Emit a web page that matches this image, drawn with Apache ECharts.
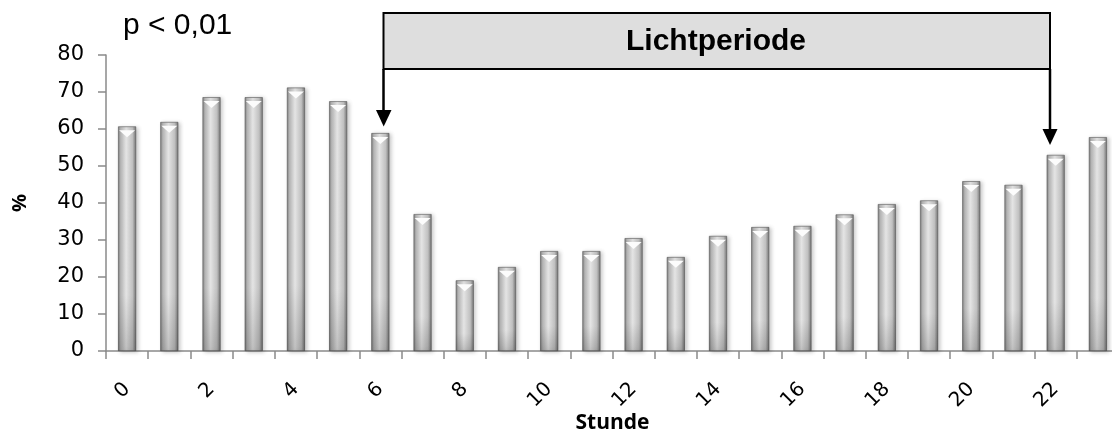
<!DOCTYPE html>
<html>
<head>
<meta charset="utf-8">
<script src="https://cdn.jsdelivr.net/npm/echarts@6/dist/echarts.min.js"></script>
<style>
  html, body { margin: 0; padding: 0; background: #ffffff; }
  #chart { width: 1112px; height: 440px; }
</style>
</head>
<body>
<div id="chart"></div>
<script>
// Hour of day (Stunde)
const hours = ['0','1','2','3','4','5','6','7','8','9','10','11','12','13','14','15','16','17','18','19','20','21','22','23'];
// Percentage per hour
const percent = [60.7, 61.9, 68.6, 68.6, 71.2, 67.5, 58.9, 37.0, 19.1, 22.7, 27.0, 27.0, 30.5, 25.4, 31.1, 33.5, 33.8, 36.9, 39.7, 40.7, 45.9, 44.9, 53.0, 57.8];
// Y-axis range
const yMin = 0, yMax = 80, yStep = 10;
// Annotation texts
const pText = 'p < 0,01';
const periodText = 'Lichtperiode';
const xName = 'Stunde';
const yName = '%';

const chart = echarts.init(document.getElementById('chart'), null, { renderer: 'canvas' });

const barFill = new echarts.graphic.LinearGradient(0, 0, 1, 0, [
  { offset: 0, color: '#7e7e7e' },
  { offset: 0.14, color: '#b8b8b8' },
  { offset: 0.45, color: '#e4e4e4' },
  { offset: 0.8, color: '#c0c0c0' },
  { offset: 1, color: '#747474' }
]);
const shadeFill = new echarts.graphic.LinearGradient(0, 0, 0, 1, [
  { offset: 0, color: 'rgba(0,0,0,0)' },
  { offset: 0.75, color: 'rgba(0,0,0,0)' },
  { offset: 1, color: 'rgba(0,0,0,0.16)' }
]);

const axisGray = '#8a8a8a';

chart.setOption({
  animation: false,
  backgroundColor: '#ffffff',
  grid: { left: 106, top: 55, width: 1013, height: 296, containLabel: false, outerBoundsMode: 'none' },
  xAxis: {
    type: 'category',
    data: hours,
    name: xName,
    nameLocation: 'middle',
    nameGap: 62,
    nameMoveOverlap: false,
    nameTextStyle: { fontFamily: 'Open Sans', fontWeight: 'bold', fontSize: 21, color: '#000' },
    boundaryGap: true,
    axisLine: { show: true, lineStyle: { color: axisGray, width: 1.5 } },
    axisTick: { show: true, interval: 0, length: 8, lineStyle: { color: axisGray, width: 1.5 } },
    axisLabel: {
      interval: 1,
      rotate: 45,
      margin: 35,
      fontFamily: 'DejaVu Sans',
      fontSize: 20,
      color: '#000'
    },
    splitLine: { show: false }
  },
  yAxis: {
    type: 'value',
    min: yMin,
    max: yMax,
    interval: yStep,
    name: yName,
    nameLocation: 'middle',
    nameRotate: 90,
    nameGap: 76,
    nameMoveOverlap: false,
    nameTextStyle: { fontFamily: 'Open Sans', fontWeight: 'bold', fontSize: 20, color: '#000' },
    axisLine: { show: true, lineStyle: { color: axisGray, width: 1.5 } },
    axisTick: { show: true, length: 8, lineStyle: { color: axisGray, width: 1.5 } },
    axisLabel: { margin: 22, fontFamily: 'DejaVu Sans', fontSize: 21, color: '#000' },
    splitLine: { show: false }
  },
  series: [
    {
      name: 'percent',
      type: 'bar',
      data: percent,
      barWidth: 18,
      itemStyle: {
        color: barFill,
        borderColor: '#555555',
        borderWidth: 0.6,
        shadowColor: 'rgba(0,0,0,0.22)',
        shadowBlur: 4,
        shadowOffsetX: 2,
        shadowOffsetY: 1
      },
      z: 2
    },
    {
      name: 'shade',
      type: 'bar',
      data: percent,
      barWidth: 18,
      barGap: '-100%',
      itemStyle: { color: shadeFill },
      silent: true,
      z: 3
    },
    {
      name: 'cap',
      type: 'pictorialBar',
      data: percent,
      symbol: 'triangle',
      symbolRotate: 180,
      symbolPosition: 'end',
      symbolSize: [16, 7],
      symbolOffset: [0, '55%'],
      itemStyle: { color: '#fcfcfc' },
      silent: true,
      z: 4
    }
  ],
  graphic: [
    {
      type: 'text',
      left: 123,
      top: 11,
      style: { text: pText, fontFamily: 'Liberation Sans', fontSize: 30, fill: '#000' }
    },
    {
      type: 'rect',
      shape: { x: 383.5, y: 13, width: 666.5, height: 56 },
      style: { fill: '#dedede', stroke: '#000', lineWidth: 2 },
      z: 10
    },
    {
      type: 'text',
      x: 716, y: 42,
      style: { text: periodText, fontFamily: 'Liberation Sans', fontWeight: 'bold', fontSize: 30, fill: '#000', align: 'center', verticalAlign: 'middle' },
      z: 11
    },
    {
      type: 'line',
      shape: { x1: 383.5, y1: 69, x2: 383.5, y2: 112 },
      style: { stroke: '#000', lineWidth: 2.5 },
      z: 10
    },
    {
      type: 'polygon',
      shape: { points: [[376, 110], [391.5, 110], [383.7, 126.5]] },
      style: { fill: '#000' },
      z: 10
    },
    {
      type: 'line',
      shape: { x1: 1050, y1: 69, x2: 1050, y2: 131 },
      style: { stroke: '#000', lineWidth: 2.5 },
      z: 10
    },
    {
      type: 'polygon',
      shape: { points: [[1042.5, 129], [1057.5, 129], [1050, 145]] },
      style: { fill: '#000' },
      z: 10
    }
  ]
});
</script>
</body>
</html>
